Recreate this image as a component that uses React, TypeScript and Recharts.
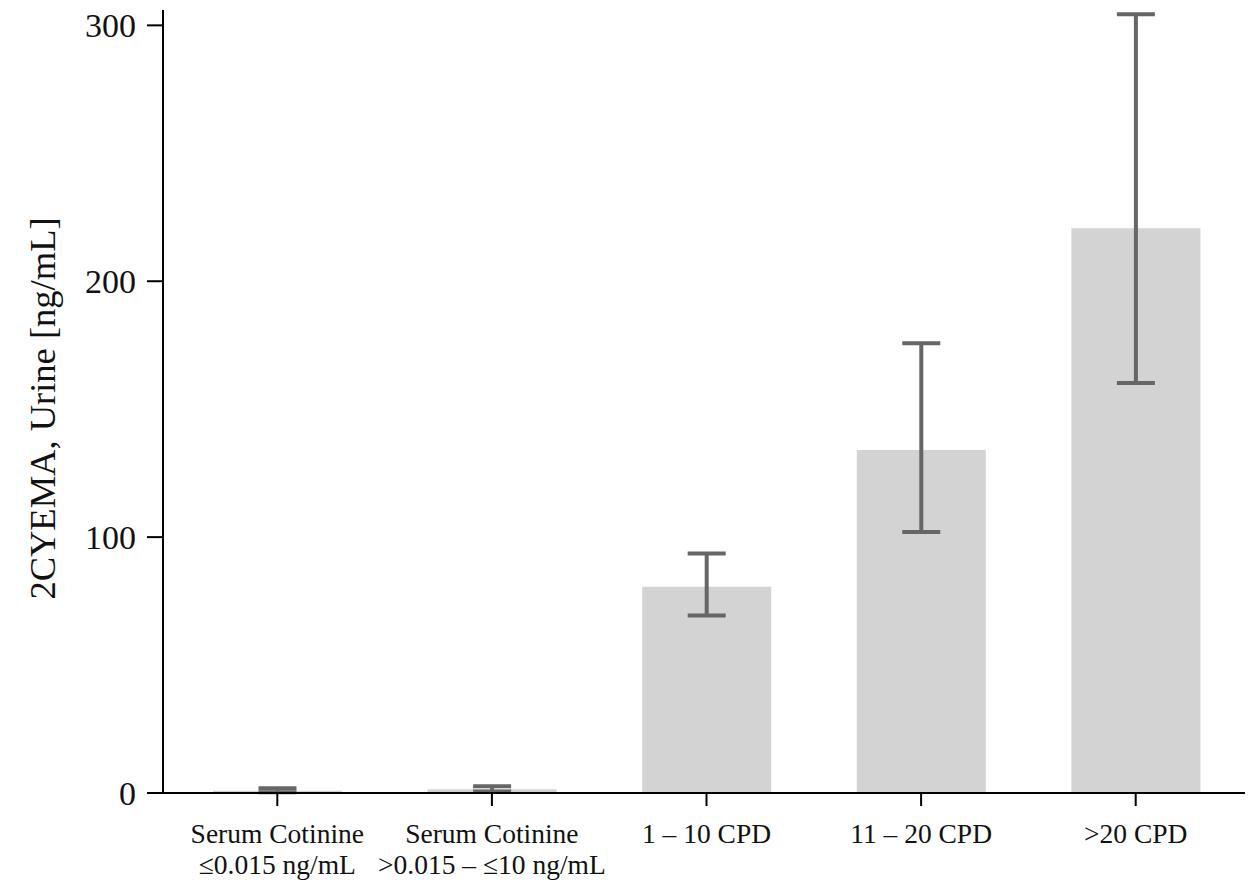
import { BarChart, Bar, XAxis, YAxis, ErrorBar, Label } from 'recharts';

// --- data ---
const CATEGORIES = [
  ['Serum Cotinine', '≤0.015 ng/mL'],
  ['Serum Cotinine', '>0.015 – ≤10 ng/mL'],
  ['1 – 10 CPD'],
  ['11 – 20 CPD'],
  ['>20 CPD'],
];
const MEANS = [0.9, 1.5, 80.6, 134, 220.7];
const CI_LOW = [0.3, 0.6, 69.4, 102, 160.2];
const CI_HIGH = [1.9, 2.6, 93.6, 175.8, 304.3];
const Y_TICKS = [0, 100, 200, 300];

const FONT = '"Liberation Serif", "DejaVu Serif", serif';

const chartData = CATEGORIES.map((lines, i) => ({
  name: lines.join('\n'),
  value: MEANS[i],
  err: [MEANS[i] - CI_LOW[i], CI_HIGH[i] - MEANS[i]],
}));

// two-line category labels
const CategoryTick = (props: any) => {
  const { x, y, payload } = props;
  const lines: string[] = String(payload.value).split('\n');
  return (
    <text
      x={x}
      y={y}
      textAnchor="middle"
      fontFamily={FONT}
      fontSize={27.5}
      fill="#111"
    >
      {lines.map((line, i) => (
        <tspan key={i} x={x} dy={i === 0 ? 37 : 31}>
          {line}
        </tspan>
      ))}
    </text>
  );
};

// rotated y-axis title
const YTitle = (props: any) => {
  const { viewBox } = props;
  const cx = 42;
  const cy = viewBox.y + viewBox.height / 2 + 7;
  return (
    <text
      x={cx}
      y={cy}
      transform={`rotate(-90 ${cx} ${cy})`}
      textAnchor="middle"
      dominantBaseline="central"
      fontFamily={FONT}
      fontSize={36.5}
      fill="#111"
    >
      2CYEMA, Urine [ng/mL]
    </text>
  );
};

export default function App() {
  return (
    <div
      style={{
        position: 'absolute',
        left: 0,
        top: 0,
        width: 1259,
        height: 886,
        background: '#fff',
      }}
    >
      <BarChart
        width={1259}
        height={886}
        data={chartData}
        margin={{ top: 10, right: 14, left: 0, bottom: 13 }}
        barCategoryGap={0}
      >
        <XAxis
          dataKey="name"
          interval={0}
          height={80}
          padding={{ left: 7, right: 2 }}
          stroke="#000"
          strokeWidth={2}
          tickSize={13}
          tickMargin={0}
          tickLine={{ stroke: '#000', strokeWidth: 2 }}
          tick={<CategoryTick />}
        />
        <YAxis
          type="number"
          domain={[0, 306]}
          ticks={Y_TICKS}
          width={163}
          stroke="#000"
          strokeWidth={2}
          tickSize={16}
          tickMargin={11}
          tickLine={{ stroke: '#000', strokeWidth: 2 }}
          tick={{ fill: '#111', fontSize: 34, fontFamily: FONT }}
        >
          <Label content={<YTitle />} />
        </YAxis>
        <Bar
          dataKey="value"
          fill="#d3d3d3"
          barSize={129}
          isAnimationActive={false}
        >
          <ErrorBar
            dataKey="err"
            width={19}
            stroke="#666"
            strokeWidth={4}
            isAnimationActive={false}
          />
        </Bar>
      </BarChart>
    </div>
  );
}
